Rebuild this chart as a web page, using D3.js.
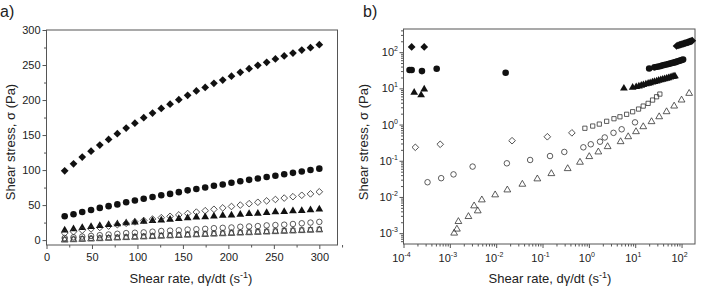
<!DOCTYPE html>
<html>
<head>
<meta charset="utf-8">
<script src="https://cdn.jsdelivr.net/npm/d3@7"></script>
<style>
  body { margin: 0; background: #fff; }
  text { font-family: Arial, "Liberation Sans", sans-serif; fill: #222; }
</style>
</head>
<body>
<div id="chart"></div>
<script>
// ---- panel a: linear shear rate (s^-1) ----
const rateA = [20, 29.7, 39.3, 49, 58.6, 68.3, 77.9, 87.6, 97.2, 106.9, 116.6, 126.2, 135.9, 145.5, 155.2,
               164.8, 174.5, 184.1, 193.8, 203.4, 213.1, 222.8, 232.4, 242.1, 251.7, 261.4, 271, 280.7, 290.3, 300];
const aFilledDiamond = [99, 109, 118.6, 127, 135.7, 143.8, 151.9, 160, 167, 174.8, 181.4, 188, 194, 200.5, 206.7,
                        212.9, 218, 223.8, 228.6, 234, 239.5, 244.8, 249.5, 253.8, 258.6, 262.9, 267, 271.4, 274.8, 279];
const aFilledCircle = [34, 37, 40, 43, 46, 48.5, 51, 54, 56.5, 59, 61.5, 64, 66, 68.5, 71,
                       73, 75, 77.5, 79.5, 82, 84, 86, 88, 90, 92, 94, 96, 98, 100, 102];
const aOpenDiamond = [10, 12, 14, 16, 18, 20, 22, 24, 26, 28, 30, 32, 34, 36, 38,
                      40, 42, 44, 46, 48, 50, 52, 54, 56, 58, 60, 62, 64, 66, 69];
const aFilledTriangle = [14, 16, 17.5, 19, 20.5, 22, 23, 24.5, 25.5, 26.5, 27.5, 28.5, 29.5, 30.5, 31.5,
                         32.5, 33, 34, 35, 35.5, 36.5, 37.5, 38, 39, 40, 40.5, 41.5, 42, 43, 44];
const aOpenCircle = [3, 4, 5, 6, 7, 8, 9, 10, 10.5, 11, 12, 13, 13.5, 14, 15,
                     15.5, 16, 17, 17.5, 18, 19, 19.5, 20, 21, 21.5, 22, 23, 24, 25, 26];
const aOpenSquare = [1, 1.5, 2, 2.5, 3, 3.5, 4, 4.5, 5, 5.5, 6, 6.5, 7, 7.5, 8,
                     8.5, 9, 9.5, 10, 10.5, 11, 11.5, 12, 12.5, 13, 13.5, 14, 14.5, 15, 15.5];
const aOpenTriangle = [0, 0.5, 1, 1.5, 2, 2.5, 3, 3.5, 4, 4.5, 5, 5.5, 6, 6.5, 7,
                       7.5, 8, 8.5, 9, 9.5, 10, 10.5, 11, 11.5, 12, 12.5, 13, 13.5, 14, 14.5];
const aTicksX = [0, 50, 100, 150, 200, 250, 300];
const aTicksY = [0, 50, 100, 150, 200, 250, 300];

// ---- panel b: log-log ----
const bFilledDiamondX = [1.5e-4, 2.8e-4, 78, 84, 90, 96, 102, 108, 114, 120, 127, 134, 141, 148, 155, 162, 170];
const bFilledDiamondY = [140, 140, 148, 153, 158, 162, 166, 170, 174, 178, 182, 186, 190, 194, 198, 203, 208];
const bFilledCircleX = [1.35e-4, 1.5e-4, 2.5e-4, 5.2e-4, 0.016, 20, 26, 30, 34, 38, 42, 47, 52, 57, 62, 68, 74, 80, 87, 94, 101, 108];
const bFilledCircleY = [32, 32, 30, 35, 27, 35.5, 38, 39.5, 41, 42.5, 44, 45.5, 47, 48.5, 50, 51.5, 53, 55, 57, 59, 61, 63];
const bFilledTriangleX = [1.7e-4, 2.4e-4, 2.8e-4, 5.7, 8.8, 10.5, 12, 13.5, 15, 17, 19, 21, 23.5, 26, 29, 32, 35.5, 39, 43, 47.5, 52, 57, 62.5, 68, 72];
const bFilledTriangleY = [7.7, 6.5, 9.4, 10, 10.6, 11, 11.5, 12, 12.5, 13.1, 13.6, 14.1, 14.7, 15.2, 15.8, 16.4, 17, 17.5, 18.2, 18.8, 19.4, 20.1, 20.8, 21.4, 21.8];
const bOpenDiamondX = [1.8e-4, 6.2e-4, 0.022, 0.127, 0.43];
const bOpenDiamondY = [0.235, 0.285, 0.358, 0.46, 0.59];
const bOpenSquareX = [0.82, 1.21, 1.68, 2.42, 3.48, 4.68, 6.53, 8.8, 11.8, 14.9, 19, 23.7, 28.9, 34];
const bOpenSquareY = [0.79, 0.91, 1.03, 1.23, 1.45, 1.64, 1.92, 2.26, 2.68, 3.24, 3.85, 4.75, 5.86, 6.95];
const bOpenCircleX = [3.3e-4, 6.5e-4, 1.2e-3, 3.1e-3, 0.017, 0.054, 0.145, 0.295, 0.76, 1.1, 1.74, 2.2, 3.4, 5.1, 9.9];
const bOpenCircleY = [0.0255, 0.033, 0.042, 0.069, 0.085, 0.105, 0.135, 0.175, 0.235, 0.285, 0.336, 0.44, 0.59, 0.74, 1.15];
const bOpenTriangleX = [1.24e-3, 1.42e-3, 1.53e-3, 2.52e-3, 3.34e-3, 4.0e-3, 4.9e-3, 9.5e-3, 0.0174, 0.0367, 0.0773, 0.155, 0.349,
                        0.643, 1.02, 1.6, 2.54, 4.84, 7.06, 10.4, 14.9, 22.5, 32.9, 47.5, 69.2, 100, 146];
const bOpenTriangleY = [1.0e-3, 1.29e-3, 2.09e-3, 2.87e-3, 5.66e-3, 4.12e-3, 8.28e-3, 0.0114, 0.0156, 0.0224, 0.0315, 0.044, 0.0605,
                        0.0908, 0.13, 0.175, 0.245, 0.336, 0.461, 0.634, 0.871, 1.2, 1.64, 2.26, 3.24, 4.75, 7.26];
const bTicksX = [-4, -3, -2, -1, 0, 1, 2];
const bTicksY = [-3, -2, -1, 0, 1, 2];

const W = 701, H = 289;
const svg = d3.select("#chart").append("svg").attr("width", W).attr("height", H);

const ink = "#111", frame = "#555";

function marker(g, pts, shape, filled) {
  const sym = {
    diamond: d3.symbol().type(d3.symbolSquare).size(filled ? 30 : 22),
    circle: d3.symbol().type(d3.symbolCircle).size(filled ? 34 : 24),
    triangle: d3.symbol().type(d3.symbolTriangle).size(filled ? 26 : 20),
    square: d3.symbol().type(d3.symbolSquare).size(18)
  }[shape];
  g.append("g").selectAll("path")
    .data(pts)
    .enter().append("path")
    .attr("d", sym)
    .attr("transform", d => `translate(${d[0]},${d[1]})` + (shape === "diamond" ? " rotate(45)" : ""))
    .style("fill", filled ? ink : "none")
    .style("stroke", filled ? "none" : "#333")
    .style("stroke-width", 0.8);
}

function box(g, x0, y0, x1, y1) {
  g.append("rect").attr("x", x0).attr("y", y0).attr("width", x1 - x0).attr("height", y1 - y0)
    .style("fill", "none").style("stroke", frame).style("stroke-width", 1);
}

// ===== panel a =====
const ax = d3.scaleLinear().domain([0, 320]).range([46.5, 337.5]);
const ay = d3.scaleLinear().domain([-7, 300]).range([245, 30]);
const ga = svg.append("g");

ga.append("g").attr("transform", "translate(0,245)")
  .call(d3.axisBottom(ax).tickValues(d3.range(0, 326, 25)).tickSize(4).tickFormat(d => aTicksX.includes(d) ? d : ""))
  .call(g => g.select(".domain").remove())
  .call(g => g.selectAll(".tick line").attr("y2", d => aTicksX.includes(d) ? 4 : 2.5).style("stroke", frame))
  .call(g => g.selectAll(".tick text").attr("y", 8).style("font-size", "11px").style("fill", "#222"));

ga.append("g").attr("transform", "translate(46.5,0)")
  .call(d3.axisLeft(ay).tickValues(d3.range(0, 301, 25)).tickSize(4).tickFormat(d => aTicksY.includes(d) ? d : ""))
  .call(g => g.select(".domain").remove())
  .call(g => g.selectAll(".tick line").attr("x2", d => aTicksY.includes(d) ? -4 : -2.5).style("stroke", frame))
  .call(g => g.selectAll(".tick text").attr("x", -6).style("font-size", "11px").style("fill", "#222"));

box(ga, 46.5, 30, 337.5, 245);

const ptsA = arr => rateA.map((r, i) => [ax(r), ay(arr[i])]);
marker(ga, ptsA(aOpenTriangle), "triangle", false);
marker(ga, ptsA(aOpenSquare), "square", false);
marker(ga, ptsA(aOpenCircle), "circle", false);
marker(ga, ptsA(aFilledTriangle), "triangle", true);
marker(ga, ptsA(aOpenDiamond), "diamond", false);
marker(ga, ptsA(aFilledCircle), "circle", true);
marker(ga, ptsA(aFilledDiamond), "diamond", true);

ga.append("text").attr("x", 0).attr("y", 17).style("font-size", "16px").text("a)");

const xTitle = (g, cx) => {
  const t = g.append("text").attr("x", cx).attr("y", 283).attr("text-anchor", "middle").style("font-size", "13px");
  t.append("tspan").text("Shear rate, d\u03b3/dt (s");
  t.append("tspan").attr("dy", -5).style("font-size", "9px").text("-1");
  t.append("tspan").attr("dy", 5).text(")");
};
const yTitle = (g, x, cy) => {
  g.append("text").attr("transform", `translate(${x},${cy}) rotate(-90)`).attr("text-anchor", "middle")
    .style("font-size", "13px").text("Shear stress, \u03c3 (Pa)");
};
xTitle(ga, 191);
yTitle(ga, 15, 142);

// ===== panel b =====
const bx = d3.scaleLog().domain([1e-4, Math.pow(10, 2.29)]).range([403.5, 695]);
const by = d3.scaleLog().domain([Math.pow(10, -3.3), Math.pow(10, 2.64)]).range([244, 29]);
const gb = svg.append("g");

const minorX = [];
for (let e = -4; e <= 2; e++) for (let m = 1; m <= 9; m++) { const v = m * Math.pow(10, e); if (v <= bx.domain()[1]) minorX.push(v); }
const minorY = [];
for (let e = -4; e <= 2; e++) for (let m = 1; m <= 9; m++) { const v = m * Math.pow(10, e); if (v >= by.domain()[0] && v <= by.domain()[1]) minorY.push(v); }

gb.append("g").attr("transform", "translate(0,244)")
  .call(d3.axisBottom(bx).tickValues(minorX).tickFormat(""))
  .call(g => g.select(".domain").remove())
  .call(g => g.selectAll(".tick line").attr("y2", d => Math.abs(Math.log10(d) % 1) < 1e-9 ? 4 : 2.5).style("stroke", frame));

gb.append("g").attr("transform", "translate(403.5,0)")
  .call(d3.axisLeft(by).tickValues(minorY).tickFormat(""))
  .call(g => g.select(".domain").remove())
  .call(g => g.selectAll(".tick line").attr("x2", d => Math.abs(Math.log10(d) % 1) < 1e-9 ? -4 : -2.5).style("stroke", frame));

// power-of-ten labels
bTicksX.forEach(e => {
  const t = gb.append("text").attr("x", bx(Math.pow(10, e)) - 2).attr("y", 262).attr("text-anchor", "middle").style("font-size", "11px");
  t.append("tspan").text("10");
  t.append("tspan").attr("dy", -5).style("font-size", "7px").text(e);
});
bTicksY.forEach(e => {
  const t = gb.append("text").attr("x", 398).attr("y", by(Math.pow(10, e)) + 4).attr("text-anchor", "end").style("font-size", "11px");
  t.append("tspan").text("10");
  t.append("tspan").attr("dy", -5).style("font-size", "7px").text(e);
});

box(gb, 403.5, 29, 695, 244);

const ptsB = (xs, ys) => xs.map((v, i) => [bx(v), by(ys[i])]);
marker(gb, ptsB(bOpenTriangleX, bOpenTriangleY), "triangle", false);
marker(gb, ptsB(bOpenCircleX, bOpenCircleY), "circle", false);
marker(gb, ptsB(bOpenSquareX, bOpenSquareY), "square", false);
marker(gb, ptsB(bOpenDiamondX, bOpenDiamondY), "diamond", false);
marker(gb, ptsB(bFilledTriangleX, bFilledTriangleY), "triangle", true);
marker(gb, ptsB(bFilledCircleX, bFilledCircleY), "circle", true);
marker(gb, ptsB(bFilledDiamondX, bFilledDiamondY), "diamond", true);

gb.append("text").attr("x", 363).attr("y", 17).style("font-size", "16px").text("b)");
xTitle(gb, 550);
yTitle(gb, 368, 142);
</script>
</body>
</html>
